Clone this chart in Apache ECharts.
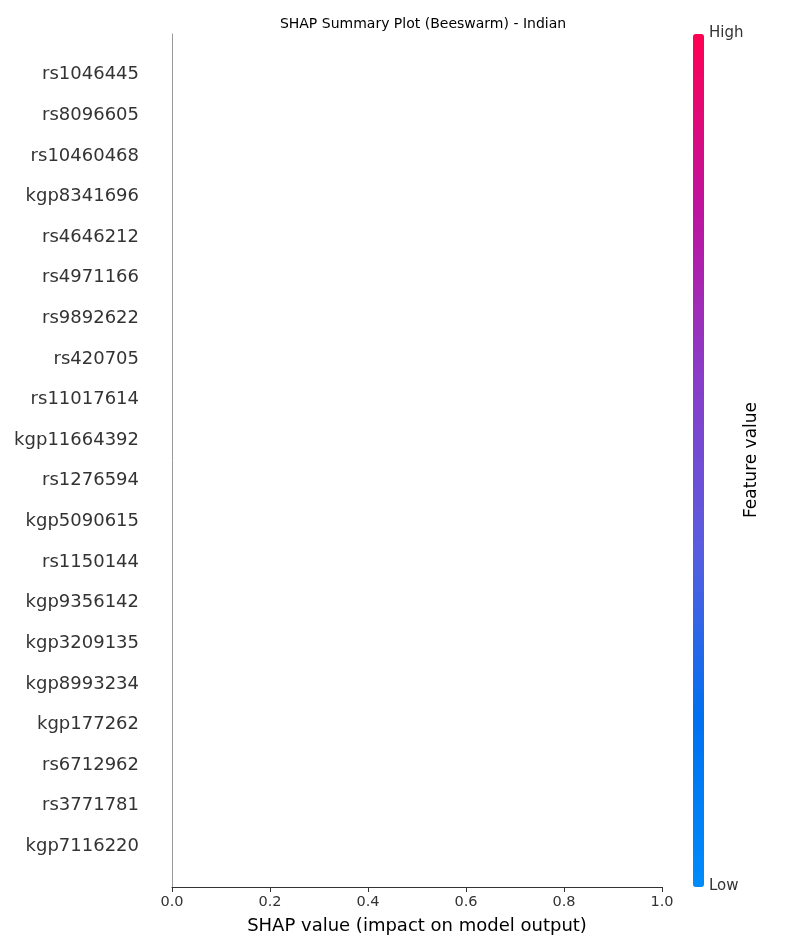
<!DOCTYPE html>
<html>
<head>
<meta charset="utf-8">
<script src="https://cdn.jsdelivr.net/npm/echarts@6/dist/echarts.min.js"></script>
<style>html,body{margin:0;padding:0;background:#fff}#main{width:800px;height:950px}</style>
</head>
<body>
<div id="main"></div>
<script>
// features, top to bottom
var features = ['rs1046445', 'rs8096605', 'rs10460468', 'kgp8341696', 'rs4646212',
    'rs4971166', 'rs9892622', 'rs420705', 'rs11017614', 'kgp11664392',
    'rs1276594', 'kgp5090615', 'rs1150144', 'kgp9356142', 'kgp3209135',
    'kgp8993234', 'kgp177262', 'rs6712962', 'rs3771781', 'kgp7116220'];
var xTicks = [0, 0.2, 0.4, 0.6, 0.8, 1.0];
// no points shown in the plot
var shapPoints = [];
var colorStops = ['#008bfb', '#0070f0', '#5a5ce0', '#8a3cc8', '#c0139e', '#ff0052'];

var n = features.length;
var chart = echarts.init(document.getElementById('main'));
var font = 'DejaVu Sans';
chart.setOption({
    textStyle: {fontFamily: font},
    title: {
        text: 'SHAP Summary Plot (Beeswarm) - Indian',
        left: 418, top: 12, textAlign: 'center',
        textStyle: {fontSize: 14, fontWeight: 'normal', color: '#000', fontFamily: font}
    },
    grid: {left: 172, right: 138, top: 34, bottom: 63},
    xAxis: {
        type: 'value', min: 0, max: 1, interval: 0.2,
        splitLine: {show: false},
        axisLine: {show: true, onZero: false, lineStyle: {color: '#333'}},
        axisTick: {show: true, length: 5, lineStyle: {color: '#333'}},
        axisLabel: {fontSize: 14.5, color: '#333', margin: 8, formatter: function (v) { return v.toFixed(1); }},
        name: 'SHAP value (impact on model output)',
        nameLocation: 'middle', nameGap: 30,
        nameTextStyle: {fontSize: 18, color: '#000'}
    },
    yAxis: {
        type: 'value', min: -1, max: n, interval: 1,
        splitLine: {show: false},
        axisLine: {show: true, onZero: false, lineStyle: {color: '#999'}},
        axisTick: {show: false},
        axisLabel: {
            fontSize: 18, color: '#333', margin: 33,
            formatter: function (v) {
                if (v < 0 || v >= n) return '';
                return features[n - 1 - v];
            }
        }
    },
    visualMap: {
        type: 'continuous', min: 0, max: 1, calculable: false,
        orient: 'vertical', left: 678, top: 19,
        itemWidth: 11, itemHeight: 853, text: ['', ''], showLabel: false,
        inRange: {color: colorStops}, seriesIndex: 0
    },
    graphic: [
        {type: 'text', left: 709, top: 26, style: {text: 'High', fontSize: 15, fill: '#333', fontFamily: font}},
        {type: 'text', left: 709, top: 879, style: {text: 'Low', fontSize: 15, fill: '#333', fontFamily: font}},
        {type: 'text', x: 752, y: 460, rotation: Math.PI / 2,
            style: {text: 'Feature value', fontSize: 17, fill: '#000', fontFamily: font,
                align: 'center', verticalAlign: 'middle'}}
    ],
    series: [{type: 'scatter', symbolSize: 5, data: shapPoints}]
});
</script>
</body>
</html>
